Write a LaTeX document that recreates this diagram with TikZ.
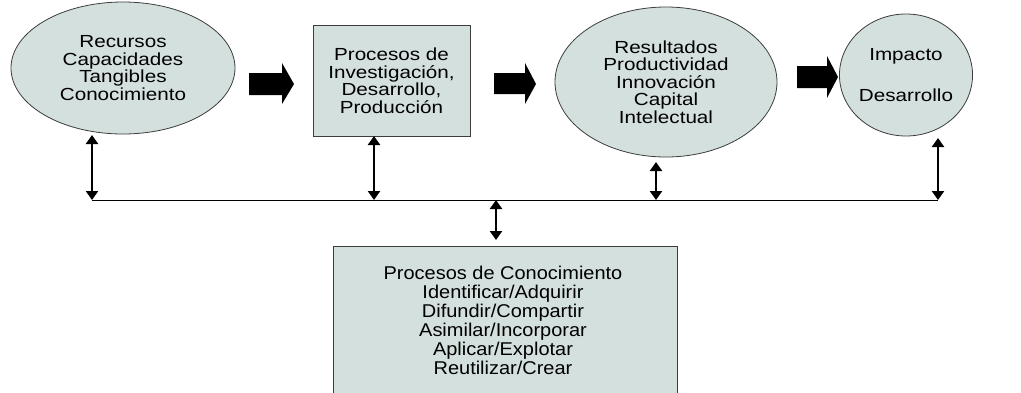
\documentclass[tikz,border=0pt]{standalone}
\usepackage{fontspec}
\setmainfont{Liberation Sans}
\newfontfamily\topfont[FakeStretch=1.18]{Liberation Sans}
\newfontfamily\botfont[FakeStretch=1.08]{Liberation Sans}
\usetikzlibrary{arrows.meta,shapes.geometric}
\definecolor{boxfill}{RGB}{212,224,222}
\definecolor{edge}{RGB}{60,60,60}
\tikzset{
  x=1pt,y=-1pt,
  every node/.style={align=center,text=black},
  txt/.style={font=\topfont\fontsize{17.5}{17.5}\selectfont},
  oval/.style={ellipse,draw=edge,line width=0.8pt,fill=boxfill,inner sep=0pt,txt},
  rbox/.style={rectangle,draw=edge,line width=1pt,fill=boxfill,inner sep=0pt,txt},
  dbl/.style={line width=2.6pt,{Triangle[length=9pt,width=12pt]}-{Triangle[length=9pt,width=12pt]}},
  bus/.style={line width=1pt},
  blk/.style={fill=black}
}
\begin{document}
\begin{tikzpicture}
\useasboundingbox (0,0) rectangle (1021,392);
% nodes
\node[oval,minimum width=224,minimum height=132] (rec) at (123,68) {Recursos\\Capacidades\\Tangibles\\Conocimiento};
\node[rbox,minimum width=157,minimum height=111] (proc) at (391.5,80.5) {Procesos de\\Investigación,\\Desarrollo,\\Producción};
\node[oval,minimum width=222,minimum height=150] (res) at (666,82) {Resultados\\Productividad\\Innovación\\Capital\\Intelectual};
\node[oval,minimum width=98,minimum height=122] (imp) at (906,75) {Impacto\\[24pt]Desarrollo};
\draw[rbox] (333,246) rectangle (677,400);
\node[inner sep=0pt,anchor=north,font=\botfont\fontsize{18.5}{19}\selectfont] (kn) at (503,266) {Procesos de Conocimiento\\Identificar/Adquirir\\Difundir/Compartir\\Asimilar/Incorporar\\Aplicar/Explotar\\Reutilizar/Crear};
% block arrows
\fill[blk] (249,73) -- (282,73) -- (282,63) -- (294,84) -- (282,104) -- (282,95) -- (249,95) -- cycle;
\fill[blk] (494,73) -- (525,73) -- (525,63) -- (536,84) -- (525,104) -- (525,94) -- (494,94) -- cycle;
\fill[blk] (797,66) -- (827,66) -- (827,56) -- (838,77) -- (827,98) -- (827,88) -- (797,88) -- cycle;
% bus
\coordinate (b1) at (92,200);
\coordinate (b2) at (374,200);
\coordinate (b3) at (656,200);
\coordinate (b4) at (938,200);
\coordinate (bc) at (496,200);
\coordinate (kt) at (496,240);
\coordinate (t1) at (92,135);
\coordinate (t2) at (374,136);
\coordinate (t3) at (656,162);
\coordinate (t4) at (938,138);
\draw[bus] (b1) -- (b4);
\draw[dbl] (t1) -- (b1);
\draw[dbl] (t2) -- (b2);
\draw[dbl] (t3) -- (b3);
\draw[dbl] (t4) -- (b4);
\draw[dbl] (bc) -- (kt);
\end{tikzpicture}
\end{document}
